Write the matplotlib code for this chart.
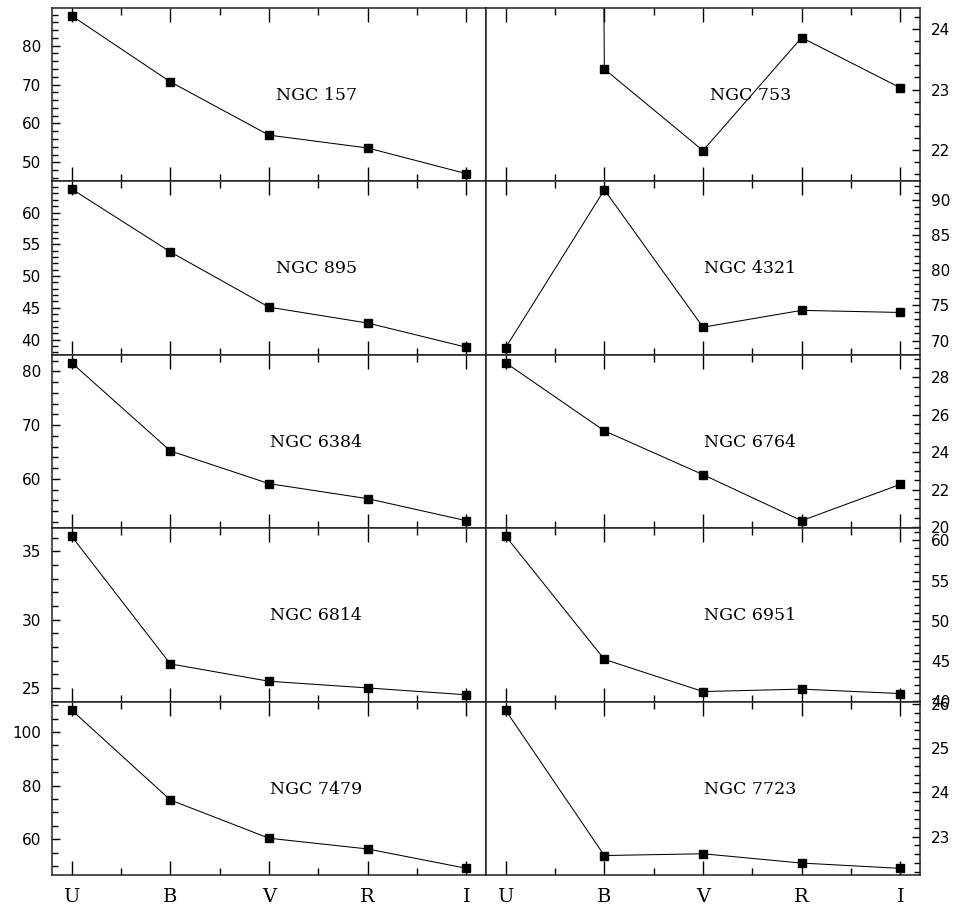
import matplotlib
matplotlib.use('Agg')
import matplotlib.pyplot as plt
from matplotlib.ticker import MultipleLocator, FormatStrFormatter

bands = ['U', 'B', 'V', 'R', 'I']

# values, one list per galaxy
ngc157 = [87.7, 70.7, 57.0, 53.7, 47.1]
ngc753 = [250.0, 23.34, 21.99, 23.86, 23.03]   # U is off the top of the panel
ngc895 = [63.7, 53.8, 45.1, 42.6, 38.8]
ngc4321 = [69.0, 91.5, 71.9, 74.3, 74.0]
ngc6384 = [81.6, 65.2, 59.1, 56.3, 52.2]
ngc6764 = [28.77, 25.14, 22.8, 20.34, 22.28]
ngc6814 = [36.1, 26.76, 25.49, 25.0, 24.5]
ngc6951 = [60.5, 45.2, 41.2, 41.5, 40.95]
ngc7479 = [108.1, 74.65, 60.4, 56.4, 49.2]
ngc7723 = [25.85, 22.57, 22.61, 22.40, 22.28]

names = ['NGC 157', 'NGC 753', 'NGC 895', 'NGC 4321', 'NGC 6384',
         'NGC 6764', 'NGC 6814', 'NGC 6951', 'NGC 7479', 'NGC 7723']
series = [ngc157, ngc753, ngc895, ngc4321, ngc6384,
          ngc6764, ngc6814, ngc6951, ngc7479, ngc7723]

# y range, major step, minor step for each panel
yaxes = [((45.1, 89.7), 10, 2), ((21.48, 24.35), 1, 0.2),
         ((37.6, 64.9), 5, 1), ((67.96, 92.7), 5, 1),
         ((50.8, 83.1), 10, 2), ((19.94, 29.2), 2, 0.5),
         ((24.0, 36.7), 5, 1), ((39.95, 61.5), 5, 1),
         ((46.7, 111.3), 20, 5), ((22.13, 26.05), 1, 0.2)]

fig, axes = plt.subplots(5, 2, figsize=(9.54, 9.06), dpi=100)
fig.subplots_adjust(left=52/954, right=920/954, top=1-8/906, bottom=1-875/906,
                    hspace=0, wspace=0)

x = list(range(len(bands)))
for i, ax in enumerate(axes.flat):
    row, col = divmod(i, 2)
    ax.plot(x, series[i], color='black', lw=0.75, marker='s', ms=5.2,
            mec='black', mfc='black')
    ax.set_xlim(-0.2, 4.2)
    (lo, hi), major, minor = yaxes[i]
    ax.set_ylim(lo, hi)

    ax.xaxis.set_major_locator(MultipleLocator(1))
    ax.xaxis.set_minor_locator(MultipleLocator(0.5))
    ax.yaxis.set_major_locator(MultipleLocator(major))
    ax.yaxis.set_minor_locator(MultipleLocator(minor))
    ax.yaxis.set_major_formatter(FormatStrFormatter('%g'))

    ax.tick_params(axis='x', which='major', direction='in', length=10,
                   width=1.0, top=True, bottom=True, pad=9)
    ax.tick_params(axis='x', which='minor', direction='in', length=5,
                   width=1.0, top=True, bottom=True)
    if col == 0:
        ax.tick_params(axis='y', which='both', direction='in', left=True,
                       right=False, labelleft=True, labelright=False, width=1.0)
    else:
        ax.tick_params(axis='y', which='both', direction='in', left=False,
                       right=True, labelleft=False, labelright=True, width=1.0)
    ax.tick_params(axis='y', which='major', length=6, pad=8, labelsize=11)
    ax.tick_params(axis='y', which='minor', length=4)

    if row == 4:
        ax.set_xticks(x)
        ax.set_xticklabels(bands, family='DejaVu Serif', fontsize=14)
    else:
        ax.set_xticklabels([])

    for s in ax.spines.values():
        s.set_linewidth(1.1)
        s.set_color('#222222')

    ax.text(2.48, 0.495, names[i], transform=ax.get_xaxis_transform(),
            ha='center', va='center', family='DejaVu Serif', fontsize=12.5)

fig.savefig('out.png', dpi=100)
